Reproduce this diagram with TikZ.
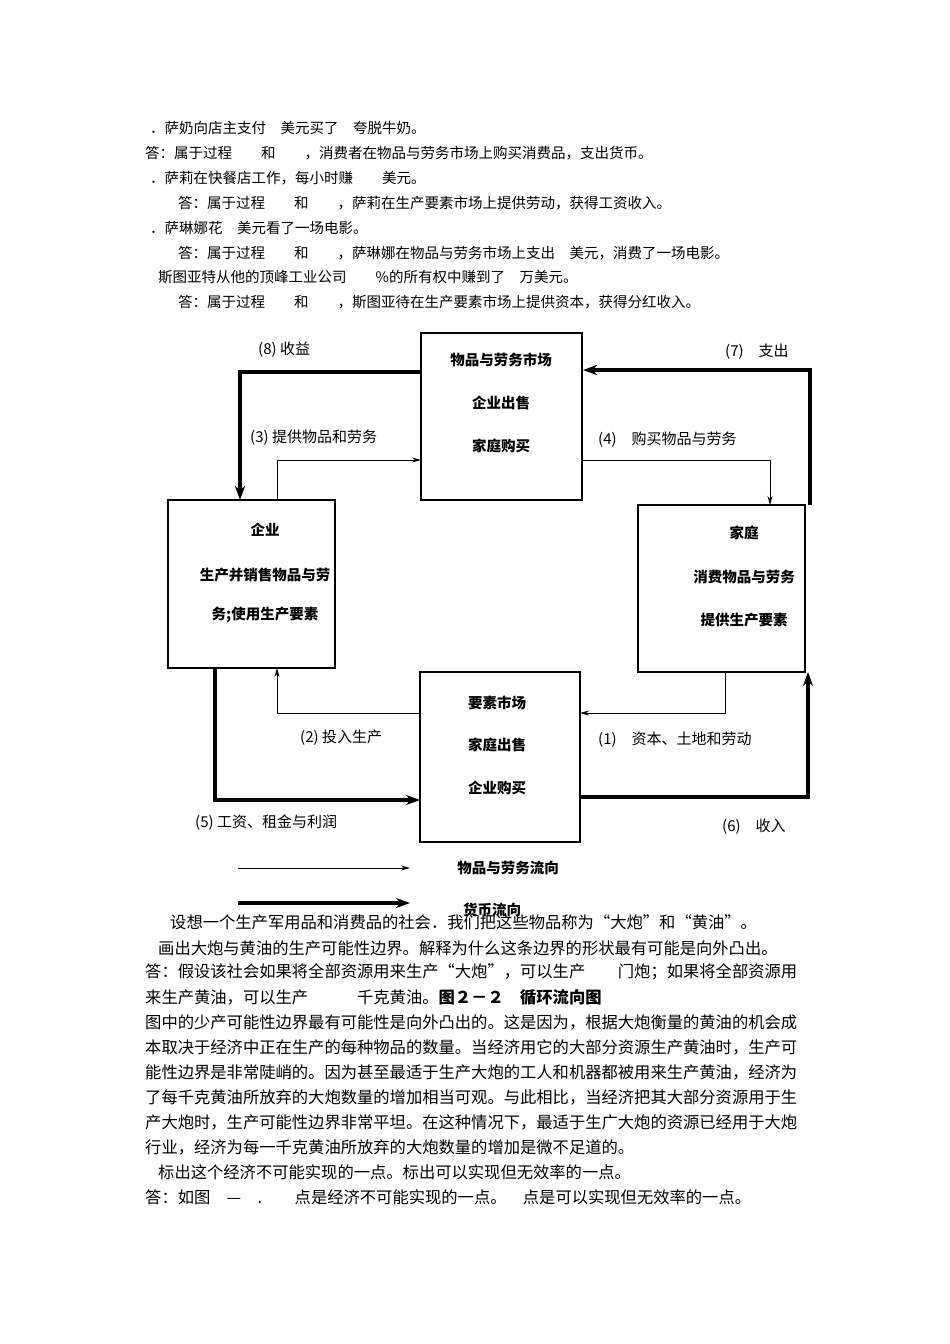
\documentclass[tikz,border=0pt]{standalone}
\usepackage{fontspec}
\setmainfont{Noto Sans CJK SC}
\usetikzlibrary{arrows.meta}
\begin{document}
\begin{tikzpicture}[x=1pt,y=-1pt,
 txt/.style={anchor=west,inner sep=0,font=\fontsize{14.5}{15}\selectfont},
 par/.style={anchor=west,inner sep=0,font=\fontsize{16.3}{17}\selectfont},
 bx/.style={draw,line width=1.3pt,minimum width=#1,inner sep=0},
 bt/.style={inner sep=0,font=\fontsize{14.5}{15}\selectfont\bfseries},
 lb/.style={inner sep=0,anchor=west,font=\fontsize{15}{16}\selectfont},
 thin/.style={line width=0.8pt,-{Stealth[length=9pt,width=5pt]}},
 thick/.style={line width=3.2pt,-{Stealth[length=14pt,width=10pt]}}]
\useasboundingbox (0,0) rectangle (950,1344);
\fill[white] (0,0) rectangle (950,1344);
% top text
\node[txt] (t1) at (150,128) {．萨奶向店主支付　美元买了　夸脱牛奶。};
\node[txt] (t2) at (145,153) {答：属于过程　　和　　，消费者在物品与劳务市场上购买消费品，支出货币。};
\node[txt] (t3) at (150,178) {．萨莉在快餐店工作，每小时赚　　美元。};
\node[txt] (t4) at (178,203) {答：属于过程　　和　　，萨莉在生产要素市场上提供劳动，获得工资收入。};
\node[txt] (t5) at (150,228) {．萨琳娜花　美元看了一场电影。};
\node[txt] (t6) at (178,253) {答：属于过程　　和　　，萨琳娜在物品与劳务市场上支出　美元，消费了一场电影。};
\node[txt] (t7) at (158,277) {斯图亚特从他的顶峰工业公司　　\%的所有权中赚到了　万美元。};
\node[txt] (t8) at (178,302) {答：属于过程　　和　　，斯图亚待在生产要素市场上提供资本，获得分红收入。};
% boxes
\draw[line width=1.3pt] (421,333) rectangle (582,500);
\draw[line width=1.3pt] (168,500) rectangle (335,668);
\draw[line width=1.3pt] (638,505) rectangle (805,672);
\draw[line width=1.3pt] (420,672) rectangle (580,842);
\coordinate (top) at (501,416);
\node[bt] (a1) at (501,360) {物品与劳务市场};
\node[bt] (a2) at (501,403) {企业出售};
\node[bt] (a3) at (501,446) {家庭购买};
\node[bt] (b1) at (265,530) {企业};
\node[bt] (b2) at (265,575) {生产并销售物品与劳};
\node[bt] (b3) at (265,615) {务;使用生产要素};
\node[bt] (c1) at (744,533) {家庭};
\node[bt] (c2) at (744,577) {消费物品与劳务};
\node[bt] (c3) at (744,620) {提供生产要素};
\node[bt] (d1) at (497,703) {要素市场};
\node[bt] (d2) at (497,745) {家庭出售};
\node[bt] (d3) at (497,788) {企业购买};
% thick loop
\draw[thick] (421,372) -- (240,372) -- (240,500);
\draw[thick] (810,505) -- (810,370) -- (583,370);
\draw[thick] (215,668) -- (215,800) -- (420,800);
\draw[thick] (580,797) -- (808,797) -- (808,672);
% thin loop
\draw[thin] (277,500) -- (277,460) -- (421,460);
\draw[thin] (582,460) -- (770,460) -- (770,505);
\draw[thin] (725,672) -- (725,713) -- (580,713);
\draw[thin] (420,713) -- (277,713) -- (277,668);
% labels
\node[lb] (l8) at (258,350) {(8) 收益};
\node[lb] (l7) at (725,352) {(7)　支出};
\node[lb] (l3) at (250,438) {(3) 提供物品和劳务};
\node[lb] (l4) at (598,440) {(4)　购买物品与劳务};
\node[lb] (l2) at (300,738) {(2) 投入生产};
\node[lb] (l1) at (598,740) {(1)　资本、土地和劳动};
\node[lb] (l5) at (195,823) {(5) 工资、租金与利润};
\node[lb] (l6) at (722,827) {(6)　收入};
% legend
\coordinate (g1) at (238,868); \coordinate (g2) at (410,868);
\coordinate (h1) at (238,903); \coordinate (h2) at (410,903);
\draw[thin] (g1) -- (g2);
\draw[thick] (h1) -- (h2);
\node[bt] (lg1) at (508,868) {物品与劳务流向};
\node[bt] (lg2) at (492,910) {货币流向};
% bottom text
\node[par] (p1) at (170,922) {设想一个生产军用品和消费品的社会．我们把这些物品称为“大炮”和“黄油”。};
\node[par] (p2) at (158,948) {画出大炮与黄油的生产可能性边界。解释为什么这条边界的形状最有可能是向外凸出。};
\node[par] (p3) at (145,972) {答：假设该社会如果将全部资源用来生产“大炮”，可以生产　　门炮；如果将全部资源用};
\node[par] (p4) at (145,997) {来生产黄油，可以生产　　　千克黄油。\textbf{图２－２　循环流向图}};
\node[par] (p5) at (145,1022) {图中的少产可能性边界最有可能性是向外凸出的。这是因为，根据大炮衡量的黄油的机会成};
\node[par] (p6) at (145,1047) {本取决于经济中正在生产的每种物品的数量。当经济用它的大部分资源生产黄油时，生产可};
\node[par] (p7) at (145,1072) {能性边界是非常陡峭的。因为甚至最适于生产大炮的工人和机器都被用来生产黄油，经济为};
\node[par] (p8) at (145,1097) {了每千克黄油所放弃的大炮数量的增加相当可观。与此相比，当经济把其大部分资源用于生};
\node[par] (p9) at (145,1122) {产大炮时，生产可能性边界非常平坦。在这种情况下，最适于生广大炮的资源已经用于大炮};
\node[par] (p10) at (145,1147) {行业，经济为每一千克黄油所放弃的大炮数量的增加是微不足道的。};
\node[par] (p11) at (158,1172) {标出这个经济不可能实现的一点。标出可以实现但无效率的一点。};
\node[par] (p12) at (145,1197) {答：如图　—　.　　点是经济不可能实现的一点。　点是可以实现但无效率的一点。};
\end{tikzpicture}
\end{document}
